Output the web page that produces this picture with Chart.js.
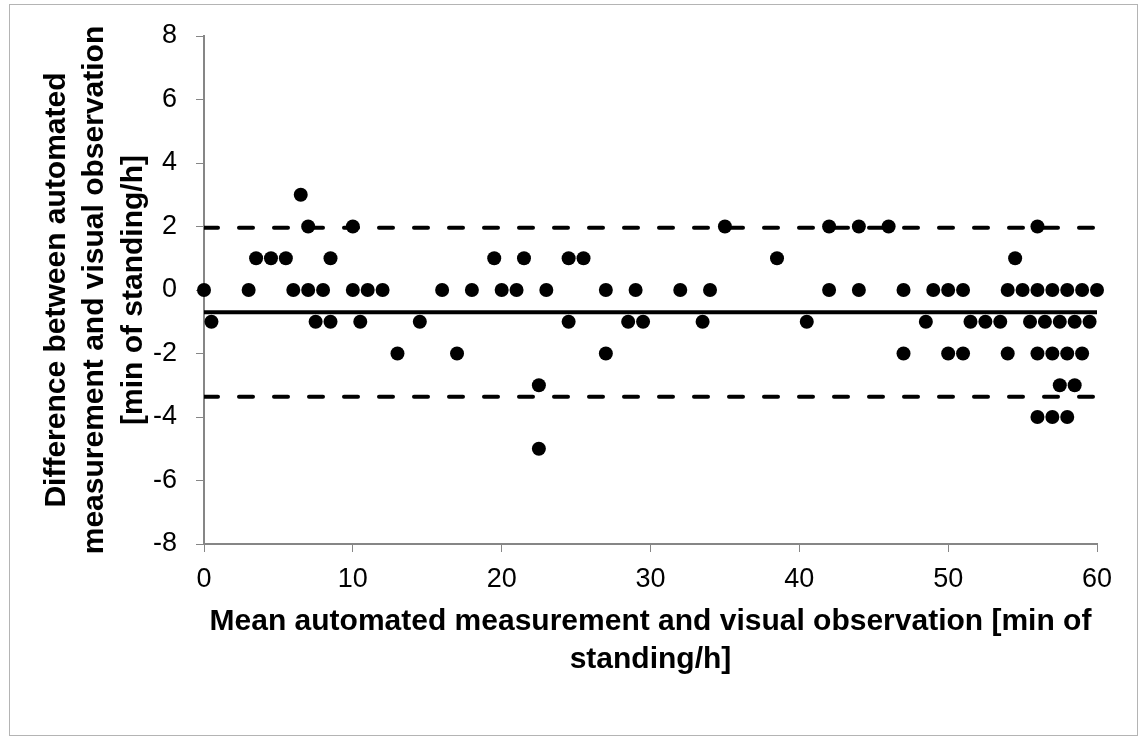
<!DOCTYPE html>
<html>
<head>
<meta charset="utf-8">
<script src="https://cdn.jsdelivr.net/npm/chart.js@4.4.1/dist/chart.umd.min.js"></script>
<style>
  body { margin: 0; background: #fff; overflow: hidden; }
  #wrap { position: relative; width: 1141px; height: 738px; }
  #frame { position: absolute; left: 9px; top: 4px; width: 1127px; height: 730px; border: 1.5px solid #b4b4b4; pointer-events: none; }
</style>
</head>
<body>
<div id="wrap">
  <canvas id="bland"></canvas>
  <div id="frame"></div>
</div>
<script>
// differences (min of standing/h), grouped by value, with the mean x of each point
const yThree = [6.5];
const yTwo = [7, 10, 35, 42, 44, 46, 56];
const yOne = [3.5, 4.5, 5.5, 8.5, 19.5, 21.5, 24.5, 25.5, 38.5, 54.5];
const yZero = [0, 3, 6, 7, 8, 10, 11, 12, 16, 18, 20, 21, 23, 27, 29, 32, 34, 42, 44, 47, 49, 50, 51, 54, 55, 56, 57, 58, 59, 60];
const yMinusOne = [0.5, 7.5, 8.5, 10.5, 14.5, 24.5, 28.5, 29.5, 33.5, 40.5, 48.5, 51.5, 52.5, 53.5, 55.5, 56.5, 57.5, 58.5, 59.5];
const yMinusTwo = [13, 17, 27, 47, 50, 51, 54, 56, 57, 58, 59];
const yMinusThree = [22.5, 57.5, 58.5];
const yMinusFour = [56, 57, 58];
const yMinusFive = [22.5];

const meanDiff = -0.70;
const upperLimit = 1.96;
const lowerLimit = -3.36;
const xRange = [0, 60];

const xTitle = ["Mean automated measurement and visual observation [min of", "standing/h]"];
const yTitle = ["Difference between automated", "measurement and visual observation", "[min of standing/h]"];

const groups = [
  [3, yThree], [2, yTwo], [1, yOne], [0, yZero], [-1, yMinusOne],
  [-2, yMinusTwo], [-3, yMinusThree], [-4, yMinusFour], [-5, yMinusFive]
];
const points = [];
groups.forEach(([d, xs]) => xs.forEach(x => points.push({ x: x, y: d })));

const hline = v => xRange.map(x => ({ x: x, y: v }));
const axisGrey = "#868686";
const fam = "'Liberation Sans', Arial, sans-serif";

new Chart(document.getElementById("bland"), {
  type: "scatter",
  data: {
    datasets: [
      {
        type: "line", data: hline(upperLimit), borderColor: "#000", borderWidth: 4,
        borderDash: [14, 21], borderCapStyle: "round", pointRadius: 0, fill: false
      },
      {
        type: "line", data: hline(lowerLimit), borderColor: "#000", borderWidth: 4,
        borderDash: [14, 21], borderCapStyle: "round", pointRadius: 0, fill: false
      },
      {
        type: "line", data: hline(meanDiff), borderColor: "#000", borderWidth: 4,
        pointRadius: 0, fill: false
      },
      {
        data: points, backgroundColor: "#000", borderWidth: 0,
        pointRadius: 7, pointHoverRadius: 7, clip: false
      }
    ]
  },
  options: {
    responsive: true,
    maintainAspectRatio: false,
    animation: false,
    events: [],
    layout: { padding: { left: 0, top: 36, right: 44, bottom: 0 } },
    plugins: { legend: { display: false }, tooltip: { enabled: false } },
    scales: {
      x: {
        type: "linear", min: 0, max: 60,
        afterFit: s => { s.height = 194; },
        ticks: { stepSize: 10, color: "#000", padding: 11, font: { family: fam, size: 27 } },
        grid: { drawOnChartArea: false, drawTicks: true, tickLength: 8, color: axisGrey, lineWidth: 1 },
        border: { color: axisGrey, width: 2 },
        title: {
          display: true, text: xTitle, color: "#000",
          font: { family: fam, size: 30, weight: "bold", lineHeight: 1.27 },
          padding: { top: 0, bottom: 59 }
        }
      },
      y: {
        type: "linear", min: -8, max: 8,
        afterFit: s => { s.width = 204; },
        ticks: { stepSize: 2, color: "#000", padding: 19, font: { family: fam, size: 27 } },
        grid: { drawOnChartArea: false, drawTicks: true, tickLength: 8, color: axisGrey, lineWidth: 1 },
        border: { color: axisGrey, width: 2 },
        title: {
          display: true, text: yTitle, color: "#000",
          font: { family: fam, size: 30, weight: "bold", lineHeight: 1.27 },
          padding: { top: 38, bottom: 0 }
        }
      }
    }
  }
});
</script>
</body>
</html>
